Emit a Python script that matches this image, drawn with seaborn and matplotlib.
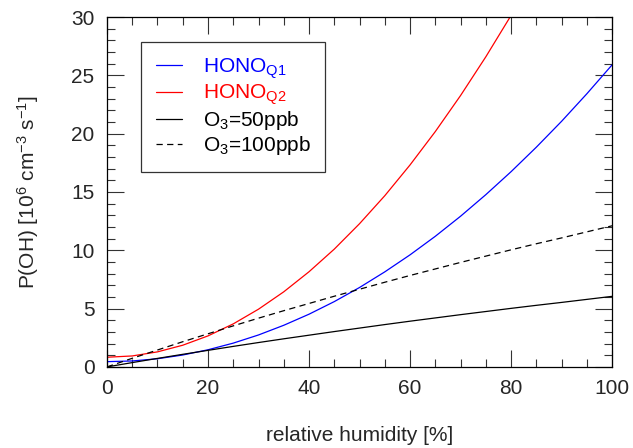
import matplotlib
matplotlib.use("Agg")
import matplotlib.pyplot as plt
from matplotlib.ticker import MultipleLocator
import pandas as pd
import seaborn as sns

sns.set_style("ticks")
plt.rcParams["font.family"] = ["Liberation Sans", "DejaVu Sans"]
plt.rcParams["mathtext.fontset"] = "custom"
plt.rcParams["mathtext.rm"] = "Liberation Sans"
plt.rcParams["mathtext.it"] = "Liberation Sans"

# relative humidity grid [%]
rh = [0, 5, 10, 15, 20, 25, 30, 35, 40, 45, 50,
      55, 60, 65, 70, 75, 80, 85, 90, 95, 100]

# P(OH) values [1e6 cm-3 s-1]
hono_q1 = [0.45, 0.51, 0.70, 1.02, 1.47, 2.04, 2.74, 3.57, 4.52, 5.60, 6.81,
           8.15, 9.61, 11.20, 12.92, 14.77, 16.74, 18.84, 21.06, 23.42, 25.90]
hono_q2 = [0.83, 0.94, 1.29, 1.86, 2.66, 3.69, 4.95, 6.44, 8.16, 10.10, 12.28,
           14.68, 17.32, 20.18, 23.27, 26.59, 30.14, 33.92, 37.93, 42.16, 46.63]
o3_50 = [0.0, 0.37, 0.73, 1.08, 1.42, 1.76, 2.09, 2.41, 2.72, 3.03, 3.33,
         3.63, 3.92, 4.20, 4.48, 4.75, 5.02, 5.28, 5.53, 5.79, 6.05]
o3_100 = [0.0, 0.74, 1.45, 2.16, 2.84, 3.52, 4.18, 4.82, 5.44, 6.06, 6.66,
          7.26, 7.84, 8.40, 8.96, 9.50, 10.04, 10.56, 11.06, 11.58, 12.10]

series = {
    "HONO$_{\\mathrm{Q1}}$": (hono_q1, "blue", "-"),
    "HONO$_{\\mathrm{Q2}}$": (hono_q2, "red", "-"),
    "O$_3$=50ppb": (o3_50, "black", "-"),
    "O$_3$=100ppb": (o3_100, "black", (0, (5, 3.5))),
}

fig = plt.figure(figsize=(6.33, 4.48), dpi=100)
ax = fig.add_axes([0.169, 0.181, 0.798, 0.781])

for label, (vals, color, ls) in series.items():
    df = pd.DataFrame({"rh": rh, "poh": vals})
    sns.lineplot(data=df, x="rh", y="poh", ax=ax, color=color,
                 linestyle=ls, linewidth=0.9, label=label)

ax.set_xlim(0, 100)
ax.set_ylim(0, 30)
ax.xaxis.set_major_locator(MultipleLocator(20))
ax.xaxis.set_minor_locator(MultipleLocator(5))
ax.yaxis.set_major_locator(MultipleLocator(5))
ax.yaxis.set_minor_locator(MultipleLocator(1))
ax.tick_params(which="both", direction="in", top=True, right=True,
               width=0.8, color="#333333", labelsize=15)
ax.tick_params(which="major", length=12)
ax.tick_params(which="minor", length=6)
ax.tick_params(axis="x", pad=9)
ax.tick_params(axis="y", pad=9)
for sp in ax.spines.values():
    sp.set_linewidth(0.9)
    sp.set_color("black")

ax.set_xlabel("relative humidity [%]", fontsize=15, labelpad=20)
ax.set_ylabel("P(OH) [10$^6$ cm$^{-3}$ s$^{-1}$]", fontsize=15, labelpad=22)

leg = ax.legend(loc="upper left", bbox_to_anchor=(0.068, 0.93),
                fontsize=15, frameon=True, fancybox=False,
                edgecolor="black", labelcolor="linecolor",
                handlelength=1.25, handletextpad=1.0, borderpad=0.7,
                labelspacing=0.1, borderaxespad=0)
leg.get_frame().set_linewidth(0.9)

fig.savefig("out.png", dpi=100)
